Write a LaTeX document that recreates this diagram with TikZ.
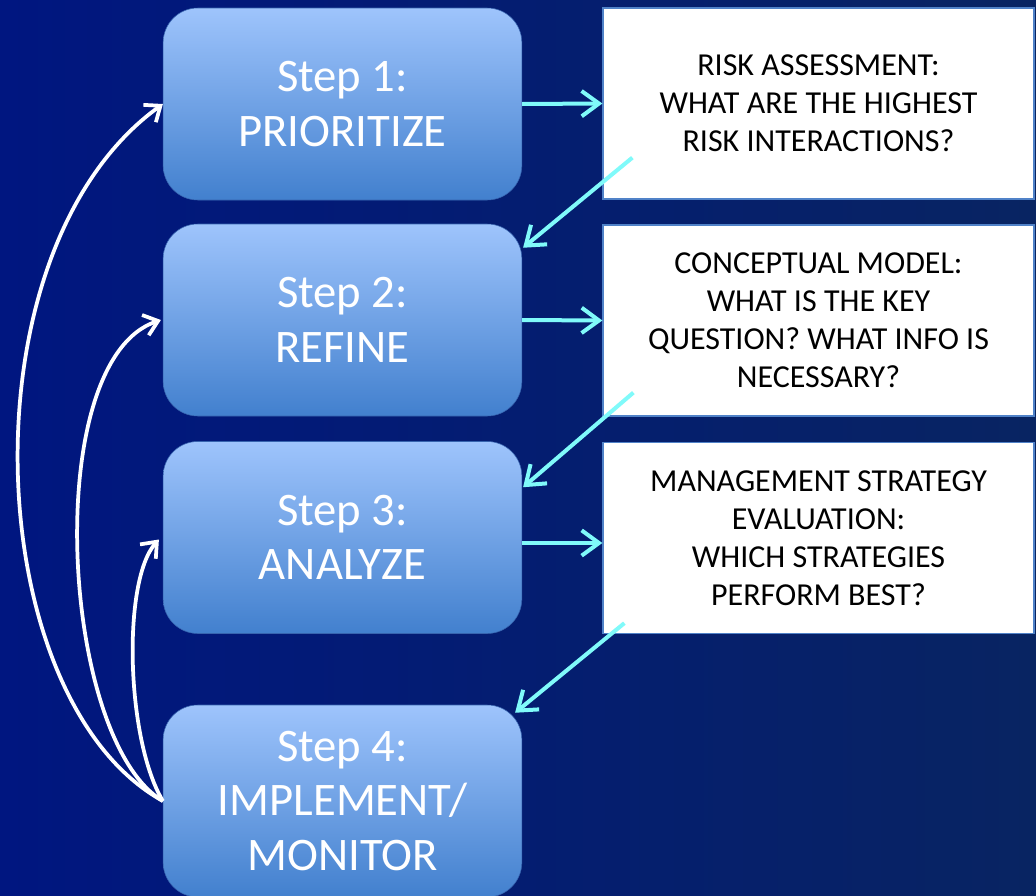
\documentclass[tikz,border=0pt]{standalone}
\usepackage{fontspec}
\setmainfont{Carlito}
\usetikzlibrary{arrows.meta,calc}

\definecolor{bgleft}{RGB}{0,22,128}
\definecolor{bgright}{RGB}{8,36,98}
\definecolor{steptop}{RGB}{158,196,252}
\definecolor{stepbot}{RGB}{66,128,206}
\definecolor{stepline}{RGB}{55,100,175}
\definecolor{flowcyan}{RGB}{128,250,250}
\definecolor{qline}{RGB}{80,130,200}

\tikzset{
  stepbox/.style={rectangle, rounded corners=26pt, draw=stepline, top color=steptop, bottom color=stepbot,
    minimum width=269pt, minimum height=144pt, text=white, align=center, font=\fontsize{35}{41}\selectfont},
  qbox/.style={rectangle, draw=qline, line width=1.2pt, fill=white, minimum width=323pt, minimum height=143pt,
    align=center, font=\fontsize{24}{28.5}\selectfont},
  flow/.style={-{Straight Barb[length=13pt,width=19pt]}, flowcyan, line width=3pt},
  back/.style={-{Straight Barb[length=10pt,width=16pt]}, white, line width=2.8pt}
}

\begin{document}
\begin{tikzpicture}[x=0.75pt,y=-0.75pt]

% background
\fill[left color=bgleft, right color=bgright] (0,0) rectangle (1036,896);
\useasboundingbox (0,0) rectangle (1036,896);

% steps
\node[stepbox] (s1) at (342.5,104) {Step 1:\\PRIORITIZE};
\node[stepbox] (s2) at (342.5,320) {Step 2:\\REFINE};
\node[stepbox] (s3) at (342.5,537.5) {Step 3:\\ANALYZE};
\node[stepbox] (s4) at (342.5,801) {Step 4:\\IMPLEMENT/\\MONITOR};

% questions
\node[qbox] (q1) at (818.5,103.5) {RISK ASSESSMENT:\\WHAT ARE THE HIGHEST\\RISK INTERACTIONS?};
\node[qbox] (q2) at (818.5,320.5) {CONCEPTUAL MODEL:\\WHAT IS THE KEY\\QUESTION? WHAT INFO IS\\NECESSARY?};
\node[qbox] (q3) at (818.5,538) {MANAGEMENT STRATEGY\\EVALUATION:\\WHICH STRATEGIES\\PERFORM BEST?};

% step to question
\draw[flow] (s1.east) -- (q1.west);
\draw[flow] (s2.east) -- (q2.west);
\draw[flow] (s3.east |- 0,543) -- (q3.west |- 0,543);

% question to next step
\draw[flow] ($(q1.south west)+(30,-42)$) -- ($(s2.north east)+(1,24)$);
\draw[flow] ($(q2.south west)+(31,-24)$) -- ($(s3.north east)+(1,46)$);
\draw[flow] ($(q3.south west)+(22,-11)$) -- ($(s4.north east)+(-7,8)$);

% feedback loops
\draw[back] (s4.west) .. controls (-20,700) and (-40,250) .. (s1.west);
\draw[back] (s4.west) .. controls (60,740) and (40,360) .. ($(s2.west)+(-2,0)$);
\draw[back] (s4.west) .. controls (126,740) and (122,580) .. ($(s3.west)+(-4,2)$);

\end{tikzpicture}
\end{document}
